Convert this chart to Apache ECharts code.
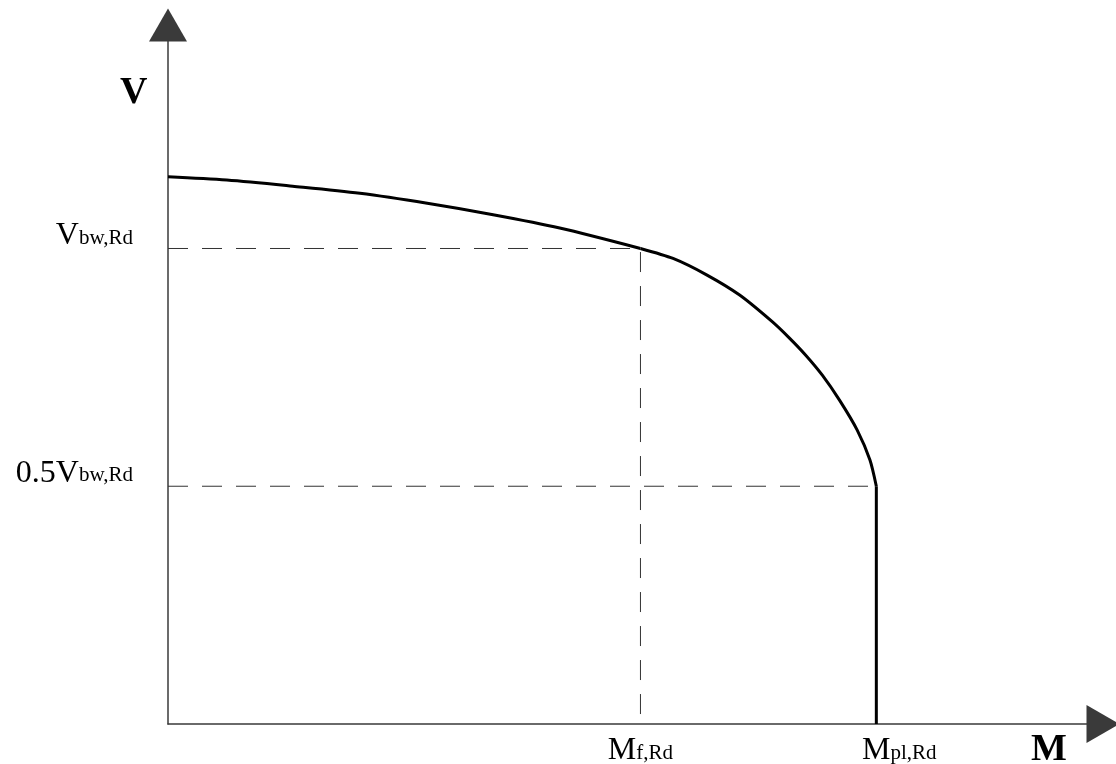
<!DOCTYPE html>
<html>
<head>
<meta charset="utf-8">
<script src="https://cdn.jsdelivr.net/npm/echarts@6/dist/echarts.min.js"></script>
<style>
  html, body { margin: 0; padding: 0; background: #fff; }
  #chart { width: 1116px; height: 764px; }
</style>
</head>
<body>
<div id="chart"></div>
<script>
// M–V interaction diagram (values normalised: V_bw,Rd = 1, M_pl,Rd = 1)
const V_BW = 1.0;
const V_HALF = 0.5;
const M_F = 0.667;
const M_PL = 1.0;

// flatter branch from M = 0 up to M_f,Rd
const upperBranch = [[0, 1.151], [0.083, 1.144], [0.176, 1.131], [0.271, 1.116], [0.366, 1.095],
                     [0.459, 1.071], [0.553, 1.043], [0.667, 1.0]];
// steeper branch from M_f,Rd down to M_pl,Rd
const lowerBranch = [[0.667, 1.0], [0.713, 0.979], [0.761, 0.944], [0.807, 0.902], [0.853, 0.846],
                     [0.877, 0.812], [0.900, 0.776], [0.924, 0.733], [0.948, 0.681], [0.973, 0.618],
                     [0.991, 0.555], [1.0, 0.5]];
// vertical cut-off at M_pl,Rd
const dropLine = [[1.0, 0.5], [1.0, 0]];

// dashed guides
const guideVbw = [[0, V_BW], [M_F, V_BW], [M_F, 0]];
const guideHalf = [[0, V_HALF], [M_PL, V_HALF]];

const yTickValues = [V_HALF, V_BW];
const yTickLabels = ['{m|0.5V}{s|bw,Rd}', '{m|V}{s|bw,Rd}'];
const xTickValues = [M_F, M_PL];
const xTickLabels = ['{m|M}{s|f,Rd}', '{mp|M}{s|pl,Rd}'];

const serif = 'Liberation Serif';
const axisColor = '#3a3a3a';

const chart = echarts.init(document.getElementById('chart'), null, { renderer: 'canvas' });

const richLabel = {
  m: { fontFamily: serif, fontSize: 32, color: '#000', verticalAlign: 'bottom' },
  mp: { fontFamily: serif, fontSize: 32, color: '#000', verticalAlign: 'bottom', padding: [0, 0, 0, 46] },
  s: { fontFamily: serif, fontSize: 21, color: '#000', verticalAlign: 'bottom', padding: [0, 0, 3, 0] }
};

chart.setOption({
  animation: false,
  backgroundColor: '#fff',
  textStyle: { fontFamily: serif },
  title: [
    { text: 'V', left: 120, top: 74, padding: 0,
      textStyle: { fontFamily: serif, fontWeight: 'bold', fontSize: 38, color: '#000' } },
    { text: 'M', left: 1031, top: 731, padding: 0,
      textStyle: { fontFamily: serif, fontWeight: 'bold', fontSize: 38, color: '#000' } }
  ],
  grid: { left: 168, right: 13, top: 25, bottom: 40, containLabel: false, outerBoundsMode: 'none' },
  xAxis: {
    type: 'value', min: 0, max: 1.32,
    axisLine: { show: true, onZero: false, symbol: ['none', 'triangle'], symbolSize: [38, 33],
      lineStyle: { color: axisColor, width: 1.5 } },
    axisTick: { show: false },
    splitLine: { show: false },
    axisLabel: {
      customValues: xTickValues,
      margin: 11,
      formatter: (v) => xTickLabels[xTickValues.indexOf(v)] || '',
      rich: richLabel
    }
  },
  yAxis: {
    type: 'value', min: 0, max: 1.47,
    axisLine: { show: true, onZero: false, symbol: ['none', 'triangle'], symbolSize: [38, 33],
      lineStyle: { color: axisColor, width: 1.5 } },
    axisTick: { show: false },
    splitLine: { show: false },
    axisLabel: {
      customValues: yTickValues,
      margin: 35,
      verticalAlign: 'bottom',
      padding: [0, 0, -3, 0],
      formatter: (v) => yTickLabels[yTickValues.indexOf(v)] || '',
      rich: richLabel
    }
  },
  series: [
    { type: 'line', data: guideVbw, symbol: 'none', silent: true,
      lineStyle: { color: '#333', width: 1, type: [20, 14] } },
    { type: 'line', data: guideHalf, symbol: 'none', silent: true,
      lineStyle: { color: '#333', width: 1, type: [20, 14] } },
    { type: 'line', data: upperBranch, symbol: 'none', smooth: 0.3,
      lineStyle: { color: '#000', width: 3 } },
    { type: 'line', data: lowerBranch, symbol: 'none', smooth: 0.25,
      lineStyle: { color: '#000', width: 3 } },
    { type: 'line', data: dropLine, symbol: 'none',
      lineStyle: { color: '#000', width: 3 } }
  ]
});
</script>
</body>
</html>
